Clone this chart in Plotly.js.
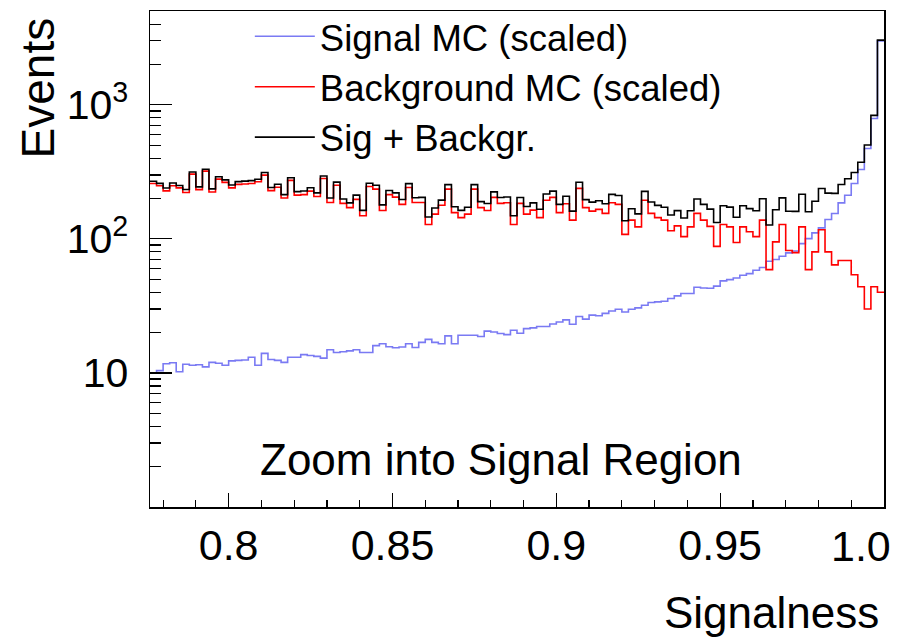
<!DOCTYPE html>
<html><head><meta charset="utf-8">
<script src="https://cdn.plot.ly/plotly-3.0.1.min.js"></script>
<style>html,body{margin:0;padding:0;background:#fff}#chart{width:901px;height:640px}</style>
</head><body><div id="chart"></div>
<script>
// ---- data ----
const binLow = 0.776;
const binWidth = 0.002;
const signal = [
  9.95, 10.4, 11.7, 11.9, 10.2, 11.6, 11.4, 11.5, 11.1, 12.0,
  11.8, 11.4, 12.3, 12.4, 12.5, 13.1, 11.4, 14.0, 12.6, 12.4,
  12.0, 13.1, 13.1, 13.7, 13.5, 13.3, 12.9, 14.9, 14.2, 14.4,
  14.6, 14.9, 14.2, 14.2, 16.0, 16.5, 15.7, 15.4, 15.6, 16.5,
  15.5, 16.9, 17.8, 16.9, 16.5, 18.9, 16.5, 19.1, 19.1, 19.1,
  18.7, 20.5, 20.2, 19.7, 19.3, 20.8, 19.8, 21.4, 21.7, 22.2,
  22.2, 23.2, 24.0, 24.9, 23.1, 26.4, 25.2, 27.0, 26.7, 27.8,
  29.0, 29.9, 28.5, 29.9, 30.6, 32.0, 33.5, 33.9, 34.3, 35.9,
  37.6, 39.1, 39.1, 43.6, 43.0, 42.8, 44.4, 48.6, 49.7, 51.1,
  53.5, 55.1, 58.3, 61.1, 68.1, 70.1, 74.2, 78.6, 81.3, 92.2,
  100.5, 110.8, 120.8, 139.4, 154.5, 185.5, 211.6, 258.8, 329, 472,
  791, 3000
];
const background = [
  259, 249, 228, 249, 240, 222, 304, 233, 320, 224,
  279, 264, 240, 255, 257, 259, 267, 299, 229, 243,
  202, 273, 212, 214, 227, 207, 282, 187, 251, 184,
  171, 197, 149, 246, 235, 163, 214, 205, 181, 242,
  187, 187, 128, 153, 178, 235, 157, 144, 153, 235,
  171, 163, 204, 184, 186, 128, 184, 153, 164, 144,
  194, 204, 157, 183, 138, 238, 171, 161, 166, 155,
  186, 181, 108, 138, 123, 194, 155, 144, 138, 115,
  125, 104, 123, 155, 138, 124, 88, 128, 123, 94,
  123, 113, 104, 138, 59, 95, 128, 82, 79, 123,
  59, 80, 117, 80, 64, 69, 69, 54, 44, 30,
  44, 40
];
const seriesNames = ['Signal MC (scaled)', 'Background MC (scaled)', 'Sig + Backgr.'];
const xTickVals = [0.8, 0.85, 0.9, 0.95];
const xTickText = ['0.8', '0.85', '0.9', '0.95'];
const yTickVals = [10, 100, 1000];
const yTickText = ['10', '10<sup>2</sup>', '10<sup>3</sup>'];
const lastXLabel = '1.0';
const lastXLabelAt = 0.9931;

// ---- derived ----
const total = signal.map((s, i) => s + background[i]);
const edges = signal.map((_, i) => binLow + i * binWidth);
edges.push(binLow + signal.length * binWidth);
const stepY = arr => arr.concat([arr[arr.length - 1]]);
const yMinor = [];
[1, 10, 100, 1000].forEach(d => { for (let m = 2; m <= 9; m++) { if (m * d < 5000) yMinor.push(m * d); } });

const FONT = 'Liberation Sans, Arial, Helvetica, sans-serif';

const traces = [
  {x: edges, y: stepY(signal), name: seriesNames[0], mode: 'lines',
   line: {shape: 'hv', color: 'rgba(40,40,235,0.62)', width: 1.6}},
  {x: edges, y: stepY(background), name: seriesNames[1], mode: 'lines',
   line: {shape: 'hv', color: '#ff0000', width: 1.6}},
  {x: edges, y: stepY(total), name: seriesNames[2], mode: 'lines',
   line: {shape: 'hv', color: '#000000', width: 1.6}}
];

const layout = {
  width: 901, height: 640,
  margin: {l: 150, r: 17, t: 11, b: 133, pad: 0, autoexpand: false},
  paper_bgcolor: '#ffffff', plot_bgcolor: '#ffffff',
  font: {family: FONT, color: '#000'},
  showlegend: true,
  hovermode: false,
  legend: {x: 0.136, xanchor: 'left', y: 1.01, yanchor: 'top',
           bgcolor: 'rgba(255,255,255,0)', borderwidth: 0,
           font: {family: FONT, size: 36.5, color: '#000'},
           tracegroupgap: 0, itemwidth: 60},
  xaxis: {
    range: [binLow, binLow + signal.length * binWidth],
    showgrid: false, zeroline: false,
    showline: true, mirror: true, linecolor: '#000', linewidth: 1.5,
    ticks: 'inside', ticklen: 14, tickwidth: 1.2, tickcolor: '#000',
    tickmode: 'array', tickvals: xTickVals, ticktext: xTickText,
    tickfont: {family: FONT, size: 43, color: '#000'},
    ticklabelstandoff: 0,
    minor: {ticks: 'inside', ticklen: 7, tickwidth: 1.2, tickcolor: '#000', dtick: 0.01, tick0: 0.8, showgrid: false}
  },
  yaxis: {
    type: 'log', range: [0, 3.7],
    showgrid: false, zeroline: false,
    showline: true, mirror: true, linecolor: '#000', linewidth: 1.5,
    ticks: 'inside', ticklen: 22, tickwidth: 1.2, tickcolor: '#000',
    tickmode: 'array', tickvals: yTickVals, ticktext: yTickText,
    tickfont: {family: FONT, size: 41, color: '#000'},
    ticklabelstandoff: 12,
    minor: {ticks: 'inside', ticklen: 11, tickwidth: 1.2, tickcolor: '#000', tickmode: 'array', tickvals: yMinor, showgrid: false}
  },
  annotations: [
    {text: 'Zoom into Signal Region', xref: 'paper', yref: 'paper', x: 0.478, y: 0.095,
     xanchor: 'center', yanchor: 'middle', showarrow: false, font: {family: FONT, size: 44, color: '#000'}},
    {text: 'Signalness', xref: 'paper', yref: 'paper', x: 0.996, y: -0.212,
     xanchor: 'right', yanchor: 'middle', showarrow: false, font: {family: FONT, size: 44, color: '#000'}},
    {text: 'Events', xref: 'paper', yref: 'paper', x: -0.1526, y: 0.992, textangle: -90,
     xanchor: 'center', yanchor: 'top', showarrow: false, font: {family: FONT, size: 46, color: '#000'}},
    {text: lastXLabel, xref: 'x', yref: 'paper', x: lastXLabelAt, y: -0.0786,
     xanchor: 'center', yanchor: 'middle', showarrow: false, font: {family: FONT, size: 43, color: '#000'}}
  ]
};

Plotly.newPlot('chart', traces, layout, {staticPlot: true, displayModeBar: false});
</script>
</body></html>
